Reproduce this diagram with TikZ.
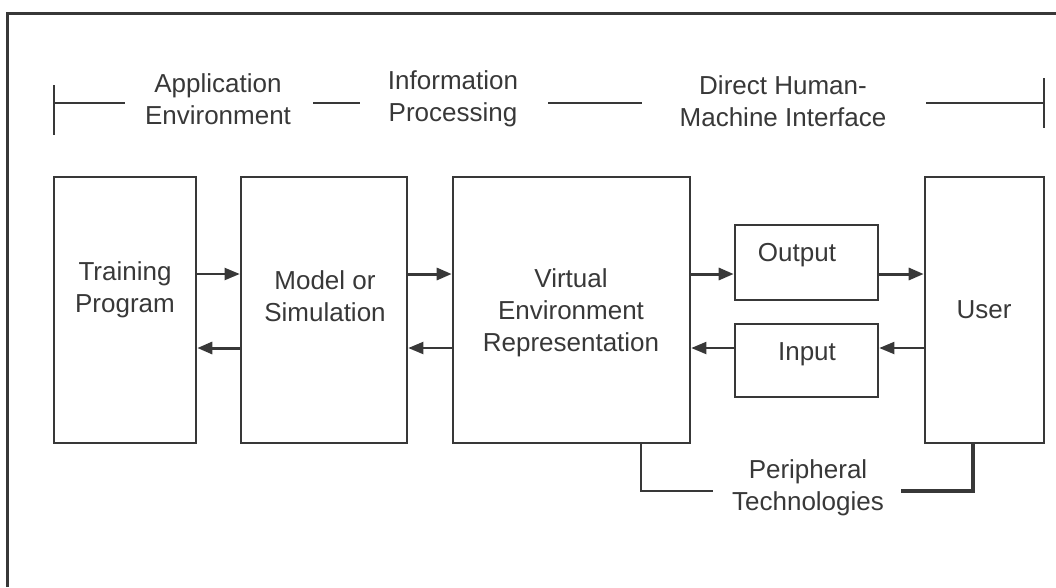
\documentclass[tikz,border=0pt]{standalone}
\usepackage{fontspec}
\setmainfont{Liberation Sans}
\usetikzlibrary{arrows.meta}
\definecolor{ink}{HTML}{383838}
\begin{document}
\begin{tikzpicture}[x=1pt,y=-1pt,
  box/.style={draw=ink, line width=2.6pt, inner sep=0pt},
  lbl/.style={font=\fontsize{26}{32}\selectfont, text=ink, align=center, inner sep=0pt},
  rule/.style={draw=ink, line width=2.6pt},
  arr/.style={draw=ink, line width=2pt, -{Triangle[length=15pt,width=12pt]}},
  thickarr/.style={arr, line width=3pt}]
\useasboundingbox (0,0) rectangle (1056,587);

% outer frame (top and left edges)
\coordinate (fbl) at (7,587);
\coordinate (ftl) at (7,13);
\coordinate (ftr) at (1056,13);
\draw[rule, line width=3pt] (fbl) -- (ftl) -- (ftr);

% scale bar with the three domains
\node[lbl] (appenv) at (218,99) {Application\\Environment};
\node[lbl] (infoproc) at (453,99) {Information\\Processing};
\node[lbl] (hmi) at (783,101) {Direct Human-\\Machine Interface};
\coordinate (lt1) at (54,85);  \coordinate (lt2) at (54,135);
\coordinate (l1a) at (54,103); \coordinate (l1b) at (125,103);
\coordinate (l2a) at (313,103); \coordinate (l2b) at (360,103);
\coordinate (l3a) at (548,103); \coordinate (l3b) at (642,103);
\coordinate (l4a) at (926,103); \coordinate (l4b) at (1044,103);
\coordinate (rt1) at (1044,78); \coordinate (rt2) at (1044,128);
\draw[rule] (lt1) -- (lt2);
\draw[rule] (l1a) -- (l1b);
\draw[rule] (l2a) -- (l2b);
\draw[rule] (l3a) -- (l3b);
\draw[rule] (l4a) -- (l4b);
\draw[rule] (rt1) -- (rt2);

% main blocks
\node[box, minimum width=142pt, minimum height=266pt] (train) at (125,310) {};
\node[box, minimum width=166pt, minimum height=266pt] (model) at (324,310) {};
\node[box, minimum width=237pt, minimum height=266pt] (ver) at (571.5,310) {};
\node[box, minimum width=143pt, minimum height=75pt] (output) at (806.5,262.5) {};
\node[box, minimum width=143pt, minimum height=73pt] (input) at (806.5,360.5) {};
\node[box, minimum width=119pt, minimum height=266pt] (user) at (984.5,310) {};

\node[lbl] (traint) at (125,290) {Training\\Program};
\node[lbl] (modelt) at (325,296) {Model or\\Simulation};
\node[lbl] (vert) at (571,313) {Virtual\\Environment\\Representation};
\node[lbl] (outputt) at (797,255) {Output};
\node[lbl] (inputt) at (807,354) {Input};
\node[lbl] (usert) at (984,310) {User};

% data flow
\coordinate (fwd) at (0,274);
\coordinate (back) at (0,348);
\draw[arr] (train.east |- fwd) -- (model.west |- fwd);
\draw[thickarr] (model.west |- back) -- (train.east |- back);
\draw[thickarr] (model.east |- fwd) -- (ver.west |- fwd);
\draw[arr] (ver.west |- back) -- (model.east |- back);
\draw[thickarr] (ver.east |- fwd) -- (output.west |- fwd);
\draw[thickarr] (output.east |- fwd) -- (user.west |- fwd);
\draw[arr] (user.west |- back) -- (input.east |- back);
\draw[arr] (input.west |- back) -- (ver.east |- back);

% peripheral technologies bracket
\node[lbl] (periph) at (808,488) {Peripheral\\Technologies};
\coordinate (pa) at (641,491);
\coordinate (pb) at (713,491);
\coordinate (pc) at (901,491);
\coordinate (pd) at (973,491);
\draw[rule] (ver.south -| pa) -- (pa) -- (pb);
\draw[rule, line width=3.2pt] (pc) -- (pd) -- (user.south -| pd);
\end{tikzpicture}
\end{document}
